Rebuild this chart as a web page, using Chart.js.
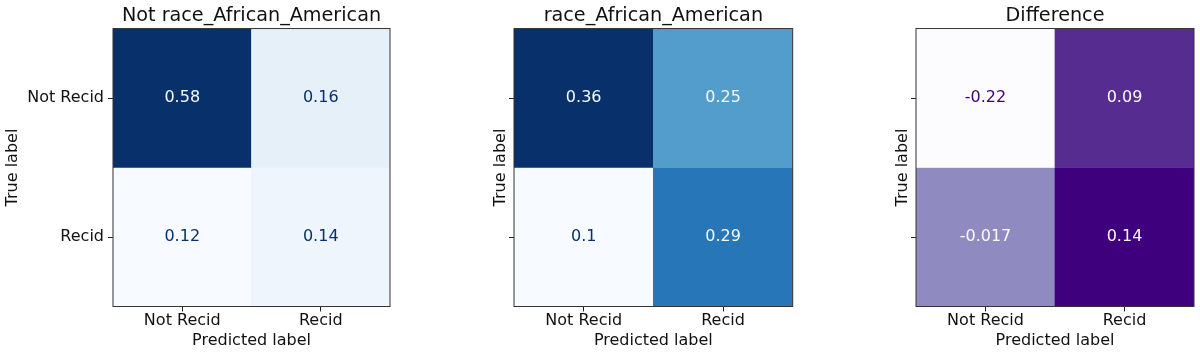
<!DOCTYPE html>
<html><head><meta charset="utf-8">
<script src="https://cdn.jsdelivr.net/npm/chart.js@4/dist/chart.umd.min.js"></script>
<style>
html,body{margin:0;padding:0;background:#fff;width:1200px;height:355px;overflow:hidden}
.panel{position:absolute;top:0;height:355px}
</style></head><body>
<div class="panel" style="left:0px;width:400px"><canvas id="c0"></canvas></div>
<div class="panel" style="left:488px;width:312px"><canvas id="c1"></canvas></div>
<div class="panel" style="left:890px;width:310px"><canvas id="c2"></canvas></div>
<script>
// ---- data ----
const predictedLabels = ['Not Recid', 'Recid'];
const trueLabels = ['Not Recid', 'Recid'];
const panelTitles = ['Not race_African_American', 'race_African_American', 'Difference'];
const notAfricanAmericanValues = [[0.58, 0.16], [0.12, 0.14]];
const africanAmericanValues = [[0.36, 0.25], [0.1, 0.29]];
const differenceValues = [[-0.22, 0.09], [-0.017, 0.14]];

// ---- colormaps (matplotlib Blues / Purples) ----
const BLUES = ['#f7fbff','#deebf7','#c6dbef','#9ecae1','#6baed6','#4292c6','#2171b5','#08519c','#08306b'];
const PURPLES = ['#fcfbfd','#efedf5','#dadaeb','#bcbddc','#9e9ac8','#807dba','#6a51a3','#54278f','#3f007d'];
function hex2rgb(h){return [parseInt(h.substr(1,2),16),parseInt(h.substr(3,2),16),parseInt(h.substr(5,2),16)];}
function cmap(stops, t){
  t = Math.max(0, Math.min(1, t));
  const p = t * (stops.length - 1);
  const i = Math.min(stops.length - 2, Math.floor(p));
  const f = p - i;
  const a = hex2rgb(stops[i]), b = hex2rgb(stops[i+1]);
  return 'rgb(' + a.map((v,k)=>Math.round(v + (b[k]-v)*f)).join(',') + ')';
}
function fmt(v){ return String(parseFloat(v.toPrecision(2))); }

Chart.defaults.font.family = "'DejaVu Sans', sans-serif";
Chart.defaults.color = '#111';

const framePlugin = {
  id: 'frame',
  afterDatasetsDraw(chart){
    const {ctx, chartArea:a} = chart;
    ctx.save();
    ctx.strokeStyle = '#333';
    ctx.lineWidth = 1;
    ctx.strokeRect(a.left, a.top, a.right - a.left, a.bottom - a.top);
    ctx.restore();
  }
};
const cellTextPlugin = {
  id: 'cellText',
  afterDatasetsDraw(chart){
    const ctx = chart.ctx;
    ctx.save();
    ctx.font = "16px 'DejaVu Sans'";
    ctx.textAlign = 'center';
    ctx.textBaseline = 'middle';
    chart.data.datasets.forEach((ds, d) => {
      const meta = chart.getDatasetMeta(d);
      meta.data.forEach((bar, j) => {
        const p = bar.getProps(['x','y','base'], true);
        ctx.fillStyle = ds.textColors[j];
        ctx.fillText(fmt(ds.cellValues[j]), p.x, (p.y + p.base) / 2);
      });
    });
    ctx.restore();
  }
};

const panels = [
  {id:'c0', values: notAfricanAmericanValues, stops: BLUES, yW: 113, padR: 10, showY: true},
  {id:'c1', values: africanAmericanValues, stops: BLUES, yW: 26, padR: 7.3, showY: false},
  {id:'c2', values: differenceValues, stops: PURPLES, yW: 26, padR: 6, showY: false}
];

panels.forEach((pn, k) => {
  const flat = pn.values.flat();
  const vmin = Math.min(...flat), vmax = Math.max(...flat);
  const thresh = (vmin + vmax) / 2;
  const norm = v => (v - vmin) / (vmax - vmin);
  const datasets = trueLabels.map((row, i) => ({
    label: row,
    data: predictedLabels.map(() => [i, i + 1]),
    cellValues: pn.values[i],
    backgroundColor: pn.values[i].map(v => cmap(pn.stops, norm(v))),
    textColors: pn.values[i].map(v => v < thresh ? cmap(pn.stops, 1) : cmap(pn.stops, 0)),
    borderWidth: 0,
    barPercentage: 1,
    categoryPercentage: 1,
    grouped: false
  }));
  new Chart(document.getElementById(pn.id), {
    type: 'bar',
    data: {labels: predictedLabels, datasets},
    plugins: [framePlugin, cellTextPlugin],
    options: {
      responsive: true,
      maintainAspectRatio: false,
      animation: false,
      layout: {padding: {left: 0, right: pn.padR, top: 0, bottom: 0}},
      plugins: {
        legend: {display: false},
        tooltip: {enabled: false},
        title: {
          display: true, text: panelTitles[k], fullSize: false,
          font: {size: 19.2, weight: 'normal'}, color: '#111',
          padding: {top: 4, bottom: 1.5}
        }
      },
      scales: {
        x: {
          type: 'category',
          offset: true,
          grid: {offset: false, drawOnChartArea: false, drawTicks: true, tickLength: 5, color: '#222'},
          border: {display: false},
          ticks: {font: {size: 16}, color: '#111', padding: 0, maxRotation: 0},
          title: {display: true, text: 'Predicted label', font: {size: 16}, color: '#111', padding: {top: 0, bottom: 5}},
          afterFit: a => { a.height = 48.5; }
        },
        y: {
          type: 'linear', min: 0, max: trueLabels.length, reverse: true,
          afterBuildTicks: a => { a.ticks = trueLabels.map((_, i) => ({value: i + 0.5})); },
          grid: {drawOnChartArea: false, drawTicks: true, tickLength: 5, color: '#222'},
          border: {display: false},
          ticks: {font: {size: 16}, color: '#111', padding: 4,
                  callback: (v, i) => pn.showY ? trueLabels[i] : ''},
          title: {display: true, text: 'True label', font: {size: 16}, color: '#111', padding: {top: 3, bottom: 0}},
          afterFit: a => { a.width = pn.yW; }
        }
      }
    }
  });
});
</script>
</body></html>
